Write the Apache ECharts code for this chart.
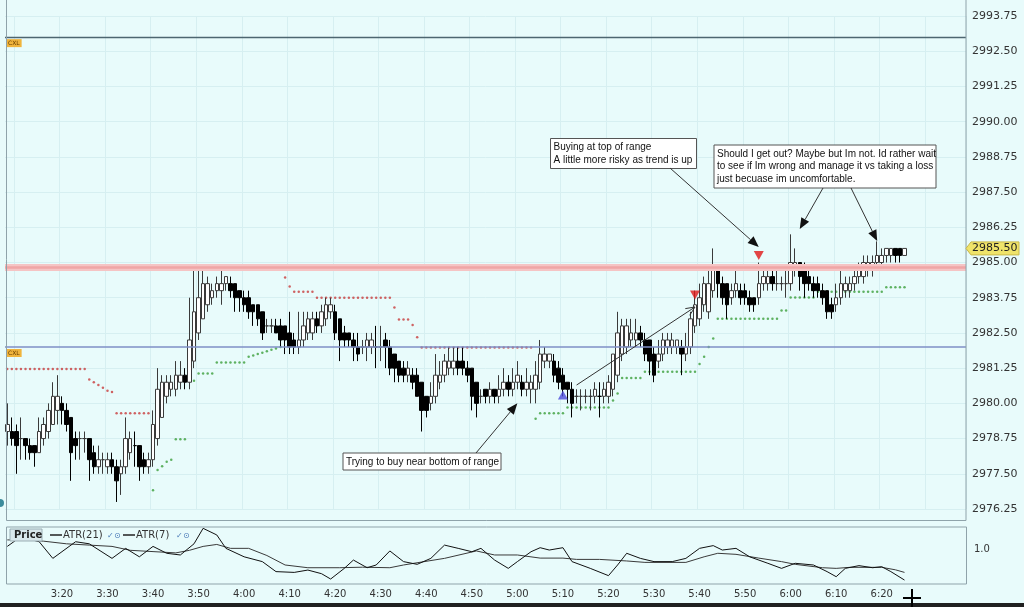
<!DOCTYPE html>
<html>
<head>
<meta charset="utf-8">
<title>Price ATR</title>
<script src="https://cdn.jsdelivr.net/npm/echarts@6/dist/echarts.min.js"></script>
<style>
  html, body { margin: 0; padding: 0; background: #e8fbfb; }
  #main { width: 1024px; height: 607px; }
</style>
</head>
<body>
<div id="main"></div>
<script>
// one-minute bars, axis runs 3:08 .. 6:38
var firstMinute = 3 * 60 + 8;
var slotCount = 211;
var times = [];
for (var m = 0; m < slotCount; m++) {
  var t = firstMinute + m;
  times.push(Math.floor(t / 60) + ':' + ('0' + (t % 60)).slice(-2));
}

// [open, close, low, high], from 3:08
var candles = [
  [2979.0, 2979.25, 2978.5, 2980.0], [2979.0, 2978.75, 2978.5, 2979.5], [2979.0, 2978.5, 2977.5, 2979.25],
  [2978.75, 2978.75, 2978.0, 2979.5], [2978.75, 2978.5, 2978.0, 2978.75], [2978.5, 2978.25, 2978.0, 2978.75],
  [2978.5, 2978.25, 2977.75, 2978.5], [2978.25, 2979.0, 2978.25, 2979.5], [2978.75, 2979.25, 2978.5, 2979.5],
  [2979.0, 2979.75, 2978.75, 2980.0], [2979.25, 2980.25, 2979.25, 2980.75], [2979.75, 2980.25, 2979.25, 2981.0],
  [2980.0, 2979.75, 2979.25, 2980.25], [2979.75, 2979.25, 2979.0, 2980.0], [2979.5, 2978.25, 2977.25, 2979.5],
  [2978.75, 2978.5, 2978.0, 2979.0], [2978.75, 2978.75, 2978.0, 2979.0], [2978.75, 2978.75, 2978.25, 2979.0],
  [2978.75, 2978.0, 2977.25, 2978.75], [2978.25, 2977.75, 2977.5, 2978.5], [2977.75, 2978.0, 2977.5, 2978.5],
  [2978.0, 2978.0, 2977.5, 2978.25], [2977.75, 2978.0, 2977.5, 2978.25], [2978.0, 2977.75, 2977.5, 2978.25],
  [2977.75, 2977.25, 2976.5, 2978.0], [2977.5, 2977.75, 2976.75, 2978.0], [2977.75, 2978.75, 2977.5, 2979.5],
  [2978.25, 2978.75, 2978.0, 2979.0], [2978.5, 2978.5, 2977.75, 2979.0], [2978.5, 2977.75, 2977.25, 2978.5],
  [2978.0, 2977.75, 2977.5, 2978.25], [2977.75, 2978.0, 2977.5, 2978.25], [2978.0, 2979.25, 2977.75, 2979.75],
  [2978.75, 2980.5, 2978.5, 2981.25], [2979.5, 2980.75, 2979.5, 2981.0], [2980.25, 2980.75, 2980.0, 2981.0],
  [2980.5, 2980.75, 2980.25, 2981.0], [2980.5, 2981.0, 2980.25, 2981.5], [2980.75, 2981.0, 2980.5, 2981.5],
  [2981.0, 2980.75, 2980.5, 2981.25], [2980.75, 2982.25, 2980.5, 2983.75], [2981.5, 2983.25, 2981.25, 2984.75],
  [2982.5, 2983.75, 2982.25, 2984.75], [2983.0, 2984.25, 2983.0, 2984.75], [2983.5, 2984.25, 2983.25, 2984.5],
  [2983.75, 2984.0, 2983.5, 2984.25], [2984.0, 2984.25, 2983.75, 2984.5], [2984.0, 2984.25, 2983.5, 2984.75],
  [2984.25, 2984.5, 2984.0, 2984.5], [2984.25, 2984.0, 2983.75, 2984.5], [2984.25, 2983.75, 2983.25, 2984.25],
  [2984.0, 2983.75, 2983.25, 2984.0], [2983.75, 2983.5, 2983.25, 2984.0], [2983.75, 2983.25, 2983.0, 2984.0],
  [2983.5, 2983.25, 2982.75, 2983.5], [2983.5, 2983.0, 2982.75, 2983.5], [2983.25, 2982.5, 2982.25, 2983.25],
  [2982.75, 2982.75, 2982.5, 2983.0], [2982.75, 2982.75, 2982.5, 2983.0], [2982.75, 2982.5, 2982.5, 2983.0],
  [2982.75, 2982.25, 2982.0, 2983.0], [2982.75, 2982.25, 2981.75, 2982.75], [2982.5, 2982.0, 2981.75, 2983.25],
  [2982.25, 2982.0, 2981.75, 2982.5], [2982.0, 2982.25, 2981.75, 2983.25], [2982.25, 2982.75, 2982.0, 2983.25],
  [2982.5, 2983.0, 2982.25, 2983.25], [2982.5, 2983.0, 2982.25, 2983.25], [2983.0, 2982.75, 2982.5, 2983.25],
  [2982.75, 2983.25, 2982.5, 2983.5], [2983.0, 2983.5, 2982.75, 2983.75], [2983.25, 2983.5, 2983.0, 2983.75],
  [2983.25, 2982.5, 2982.25, 2983.5], [2983.0, 2982.25, 2981.5, 2983.0], [2982.5, 2982.25, 2982.0, 2982.75],
  [2982.5, 2982.25, 2982.0, 2982.5], [2982.25, 2982.0, 2981.5, 2982.5], [2982.0, 2981.75, 2981.5, 2982.5],
  [2982.0, 2982.0, 2981.75, 2982.25], [2982.0, 2982.25, 2981.5, 2982.5], [2982.0, 2982.25, 2981.75, 2982.5],
  [2982.0, 2982.0, 2981.25, 2982.75], [2982.0, 2982.0, 2981.5, 2982.75], [2982.25, 2982.0, 2981.25, 2982.5],
  [2982.0, 2981.25, 2981.0, 2982.25], [2981.75, 2981.25, 2980.75, 2981.75], [2981.5, 2981.0, 2980.75, 2981.5],
  [2981.25, 2981.0, 2980.75, 2981.5], [2981.0, 2981.25, 2980.75, 2981.5], [2981.0, 2980.75, 2980.5, 2981.25],
  [2981.0, 2980.25, 2980.25, 2981.25], [2980.75, 2979.75, 2979.0, 2980.75], [2980.25, 2979.75, 2979.5, 2980.25],
  [2980.0, 2980.25, 2979.75, 2980.75], [2980.25, 2981.0, 2980.0, 2981.75], [2980.75, 2981.0, 2980.5, 2981.5],
  [2981.0, 2981.5, 2980.75, 2981.75], [2981.25, 2981.5, 2981.0, 2982.0], [2981.25, 2981.5, 2981.0, 2982.0],
  [2981.5, 2981.25, 2981.0, 2982.0], [2981.5, 2981.25, 2981.0, 2982.0], [2981.25, 2981.0, 2980.75, 2981.5],
  [2981.25, 2980.25, 2979.75, 2981.25], [2980.75, 2980.0, 2979.5, 2980.75], [2980.25, 2980.25, 2980.0, 2980.5],
  [2980.5, 2980.25, 2980.0, 2980.5], [2980.25, 2980.5, 2980.0, 2980.75], [2980.5, 2980.25, 2980.0, 2980.5],
  [2980.25, 2980.5, 2980.0, 2981.0], [2980.5, 2980.75, 2980.25, 2981.25], [2980.75, 2980.5, 2980.25, 2981.0],
  [2980.5, 2980.75, 2980.25, 2981.25], [2980.75, 2981.0, 2980.5, 2981.5], [2980.75, 2980.5, 2980.25, 2981.0],
  [2980.5, 2980.75, 2980.25, 2981.25], [2980.5, 2980.75, 2980.0, 2981.0], [2980.5, 2981.0, 2980.0, 2981.5],
  [2980.75, 2981.75, 2980.5, 2982.25], [2981.5, 2981.75, 2981.25, 2982.0], [2981.5, 2981.75, 2981.25, 2981.75],
  [2981.5, 2981.0, 2980.75, 2981.75], [2981.25, 2980.75, 2980.5, 2981.5], [2981.0, 2980.5, 2980.25, 2981.25],
  [2980.75, 2980.5, 2980.0, 2980.75], [2980.5, 2980.0, 2979.5, 2980.75], [2980.25, 2980.25, 2980.0, 2980.5],
  [2980.25, 2980.25, 2979.75, 2980.5], [2980.25, 2980.25, 2980.0, 2980.5], [2980.25, 2980.25, 2979.75, 2980.5],
  [2980.25, 2980.5, 2980.0, 2980.75], [2980.25, 2980.25, 2979.5, 2980.75], [2980.25, 2980.5, 2980.0, 2980.75],
  [2980.25, 2980.75, 2980.0, 2981.0], [2980.5, 2981.75, 2980.25, 2981.75], [2981.0, 2982.5, 2980.75, 2983.25],
  [2981.75, 2982.75, 2981.5, 2983.0], [2982.0, 2982.75, 2981.75, 2983.0], [2982.25, 2982.5, 2982.0, 2983.0],
  [2982.25, 2982.5, 2982.0, 2983.0], [2982.5, 2982.25, 2982.0, 2982.75], [2982.25, 2981.75, 2981.5, 2982.5],
  [2982.25, 2981.5, 2981.0, 2982.25], [2981.75, 2981.0, 2980.75, 2982.0], [2981.5, 2981.75, 2981.25, 2982.25],
  [2981.75, 2982.25, 2981.5, 2982.5], [2982.0, 2982.25, 2981.75, 2982.5], [2982.0, 2982.25, 2981.75, 2982.5],
  [2982.0, 2982.25, 2981.75, 2982.25], [2982.0, 2981.75, 2981.0, 2982.25], [2981.75, 2982.0, 2981.5, 2982.5],
  [2982.0, 2983.0, 2981.75, 2983.25], [2982.75, 2983.5, 2982.5, 2984.0], [2983.0, 2983.75, 2982.75, 2984.25],
  [2983.5, 2984.25, 2983.25, 2984.5], [2983.25, 2984.25, 2983.0, 2984.75], [2984.0, 2984.75, 2983.75, 2985.5],
  [2984.75, 2984.25, 2983.75, 2984.75], [2984.25, 2983.75, 2983.5, 2984.5], [2984.25, 2983.5, 2983.0, 2984.25],
  [2983.75, 2984.0, 2983.5, 2984.25], [2984.0, 2984.25, 2983.75, 2984.75], [2984.0, 2983.75, 2983.5, 2984.25],
  [2984.0, 2983.75, 2983.5, 2984.25], [2983.75, 2983.5, 2983.25, 2984.0], [2983.75, 2983.5, 2983.25, 2983.75],
  [2983.75, 2984.25, 2983.5, 2985.0], [2984.25, 2984.5, 2984.0, 2984.75], [2984.25, 2984.5, 2984.0, 2984.75],
  [2984.5, 2984.25, 2984.0, 2984.75], [2984.25, 2984.25, 2984.0, 2984.75], [2984.25, 2984.25, 2984.0, 2984.5],
  [2984.25, 2984.25, 2983.75, 2984.75], [2984.25, 2985.0, 2984.0, 2986.0], [2984.75, 2985.0, 2984.5, 2985.5],
  [2985.0, 2984.5, 2984.0, 2985.0], [2984.75, 2984.25, 2983.75, 2985.0], [2984.5, 2984.25, 2984.0, 2984.75],
  [2984.25, 2984.0, 2983.75, 2984.5], [2984.25, 2984.0, 2983.75, 2984.5], [2984.0, 2983.75, 2983.5, 2984.25],
  [2984.0, 2983.25, 2983.0, 2984.0], [2983.5, 2983.25, 2983.0, 2983.75], [2983.5, 2983.75, 2983.25, 2984.25],
  [2983.75, 2984.25, 2983.5, 2984.75], [2984.0, 2984.25, 2983.75, 2984.5], [2984.0, 2984.25, 2983.75, 2984.5],
  [2984.25, 2984.5, 2984.0, 2984.75], [2984.5, 2984.75, 2984.25, 2985.0], [2984.5, 2985.0, 2984.25, 2985.25],
  [2984.75, 2985.0, 2984.5, 2985.25], [2984.75, 2985.0, 2984.5, 2985.25], [2985.0, 2985.25, 2984.75, 2985.75],
  [2985.0, 2985.25, 2984.75, 2985.5], [2985.25, 2985.5, 2985.0, 2985.5], [2985.25, 2985.5, 2985.0, 2985.5],
  [2985.5, 2985.25, 2985.0, 2985.5], [2985.5, 2985.25, 2985.0, 2985.5], [2985.25, 2985.5, 2985.25, 2985.5]
];

// trailing stop dots, runs of [firstBar, lastBar, level]
var stopsAbove = [
  [0, 17, 2981.22], [18, 18, 2980.85], [19, 19, 2980.75], [20, 20, 2980.65], [21, 21, 2980.55],
  [22, 22, 2980.45], [23, 23, 2980.4], [24, 31, 2979.65],
  [61, 61, 2984.47], [62, 62, 2984.15], [63, 67, 2983.96], [68, 84, 2983.75], [85, 85, 2983.4],
  [86, 88, 2982.98], [89, 89, 2982.78], [90, 90, 2982.35], [91, 115, 2981.98]
];
var stopsBelow = [
  [32, 32, 2976.92], [33, 33, 2977.63], [34, 34, 2977.77], [35, 35, 2977.93], [36, 36, 2978.0],
  [37, 39, 2978.73], [40, 41, 2980.8], [42, 45, 2981.06], [46, 52, 2981.45], [53, 53, 2981.65],
  [54, 54, 2981.7], [55, 55, 2981.75], [56, 56, 2981.8], [57, 57, 2981.85], [58, 58, 2981.9],
  [59, 59, 2981.95], [60, 60, 2982.0],
  [116, 116, 2979.45], [117, 122, 2979.65], [123, 132, 2979.85], [133, 133, 2980.1], [134, 134, 2980.35],
  [135, 139, 2980.9], [140, 151, 2981.12], [152, 152, 2981.4], [153, 153, 2981.65], [154, 154, 2982.0],
  [155, 155, 2982.3], [156, 169, 2983.0], [170, 171, 2983.3], [172, 177, 2983.76], [178, 192, 2983.96],
  [193, 197, 2984.12]
];

var buySignals = [[122, 2980.3]];
var sellSignals = [[151, 2983.85], [165, 2985.25]];

// horizontal levels
var cancelLevels = [2993.0, 2982.0];
var rangeTop = 2984.82;

// ATR panel, [bar, value]
var atr21 = [
  [0, 1.07], [4, 1.07], [8, 1.06], [13, 1.04], [18, 1.03], [23, 1.02], [27, 0.99], [32, 0.98],
  [37, 0.97], [40, 0.99], [43, 1.02], [46, 1.035], [49, 1.005], [53, 1.005], [57, 0.95], [61, 0.877],
  [66, 0.856], [73, 0.856], [78, 0.86], [84, 0.856], [87, 0.877], [91, 0.9], [96, 0.928], [103, 0.985],
  [107, 0.954], [112, 0.954], [117, 0.93], [122, 0.93], [125, 0.92], [130, 0.92], [136, 0.908],
  [140, 0.897], [149, 0.897], [153, 0.94], [156, 0.967], [160, 0.959], [165, 0.93], [170, 0.903],
  [173, 0.882], [179, 0.856], [182, 0.851], [185, 0.859], [192, 0.859], [195, 0.84], [197, 0.82]
];
var atr7 = [
  [0, 1.02], [3, 1.095], [7, 1.056], [10, 0.928], [15, 1.056], [18, 1.04], [23, 0.928], [26, 1.005],
  [29, 0.94], [32, 1.02], [35, 0.967], [38, 0.954], [41, 1.04], [43, 1.159], [46, 1.108], [48, 1.005],
  [52, 0.94], [56, 0.903], [59, 0.826], [63, 0.82], [66, 0.838], [69, 0.81], [71, 0.769], [74, 0.851],
  [76, 0.915], [79, 0.856], [81, 0.877], [84, 0.985], [87, 0.903], [90, 0.882], [93, 0.928], [96, 1.03],
  [99, 1.005], [102, 0.979], [104, 1.005], [107, 0.915], [110, 0.851], [112, 0.903], [115, 0.979],
  [117, 1.01], [119, 0.992], [122, 1.01], [124, 0.903], [128, 0.851], [132, 0.795], [134, 0.877],
  [136, 0.967], [139, 0.928], [142, 0.903], [146, 0.903], [149, 0.928], [152, 1.005], [155, 1.026],
  [157, 0.992], [160, 1.005], [163, 0.94], [167, 0.89], [170, 0.851], [173, 0.89], [177, 0.877],
  [180, 0.826], [182, 0.787], [184, 0.851], [187, 0.872], [190, 0.856], [192, 0.864], [194, 0.826],
  [197, 0.761]
];

// callouts: box in pixels, arrows point at [bar, price]
var notes = [
  { box: [550.5, 138.5, 146, 30], text: 'Buying at top of range\nA little more risky as trend is up',
    arrows: [{ from: [670, 168], tip: [165, 2985.55] }] },
  { box: [714, 145, 222, 43],
    text: 'Should I get out? Maybe but Im not. Id rather wait\nto see if Im wrong and manage it vs taking a loss\njust becuase im uncomfortable.',
    arrows: [{ from: [823, 188], tip: [174, 2986.19] }, { from: [851, 188], tip: [191, 2985.76] }] },
  { box: [343, 453, 158, 17], text: 'Trying to buy near bottom of range',
    arrows: [{ from: [476, 453], tip: [112, 2980.0] }] }
];
var tradeArrow = { from: [125, 2980.65], tip: [151, 2983.42] };

function expandRuns(runs) {
  var pts = [];
  runs.forEach(function (r) {
    for (var i = r[0]; i <= r[1]; i++) pts.push([i, r[2]]);
  });
  return pts;
}

var gridColor = '#d6eff1';
var axisFont = 'DejaVu Sans';

var chart = echarts.init(document.getElementById('main'));
var option = {
  backgroundColor: '#e8fbfb',
  animation: false,
  grid: [
    { left: 5, right: 58, top: 16, height: 493, outerBoundsMode: 'none' },
    { left: 5, right: 58, top: 523, height: 65, outerBoundsMode: 'none' }
  ],
  xAxis: [
    {
      type: 'category', data: times, gridIndex: 0,
      axisLine: { show: false }, axisTick: { show: false }, axisLabel: { show: false },
      splitLine: { show: true, interval: function (i) { return (i - 2) % 10 === 0; },
                   lineStyle: { color: gridColor, width: 1 } }
    },
    {
      type: 'category', data: times, gridIndex: 1,
      axisLine: { show: false }, axisTick: { show: false },
      axisLabel: {
        interval: function (i) { return i >= 12 && i <= 192 && (i - 2) % 10 === 0; },
        fontFamily: axisFont, fontSize: 10, color: '#333', margin: 1
      },
      splitLine: { show: false }
    }
  ],
  yAxis: [
    {
      type: 'value', gridIndex: 0, position: 'right',
      min: 2976.25, max: 2993.75, interval: 1.25,
      axisLine: { show: false }, axisTick: { show: false },
      axisLabel: { formatter: function (v) { return v.toFixed(2); },
                   fontFamily: axisFont, fontSize: 11, color: '#333', margin: 6 },
      splitLine: { lineStyle: { color: gridColor, width: 1 } }
    },
    {
      type: 'value', gridIndex: 1, position: 'right',
      min: 0.7, max: 1.2, interval: 0.1,
      axisLine: { show: false }, axisTick: { show: false },
      axisLabel: { formatter: function (v) { return Math.abs(v - 1) < 1e-6 ? '1.0' : ''; },
                   fontFamily: axisFont, fontSize: 10, color: '#333', margin: 8 },
      splitLine: { show: false }
    }
  ],
  series: [
    {
      name: 'stops above', type: 'scatter', xAxisIndex: 0, yAxisIndex: 0,
      data: expandRuns(stopsAbove), symbolSize: 2.5, z: 1,
      itemStyle: { color: '#c83c3c' }, silent: true
    },
    {
      name: 'stops below', type: 'scatter', xAxisIndex: 0, yAxisIndex: 0,
      data: expandRuns(stopsBelow), symbolSize: 2.5, z: 1,
      itemStyle: { color: '#3b9f3b' }, silent: true
    },
    {
      name: 'Price', type: 'candlestick', xAxisIndex: 0, yAxisIndex: 0,
      data: candles, barWidth: 4, z: 3,
      itemStyle: { color: '#ffffff', color0: '#000000', borderColor: '#3a3a3a', borderColor0: '#000000', borderWidth: 1 },
      markLine: {
        silent: true, symbol: ['none', 'none'], animation: false,
        data: [
          { yAxis: rangeTop, lineStyle: { color: '#f5c4c4', width: 7, type: 'solid' }, label: { show: false } },
          { yAxis: rangeTop, lineStyle: { color: '#efa6a6', width: 2.5, type: 'solid' }, label: { show: false } },
          { yAxis: cancelLevels[0], lineStyle: { color: '#4d6670', width: 1.3, type: 'solid' } },
          { yAxis: cancelLevels[1], lineStyle: { color: '#7f8fc6', width: 1.5, type: 'solid' } }
        ],
        label: {
          show: true, position: 'insideStartBottom', formatter: 'CXL', distance: [1, 2],
          backgroundColor: '#f0b43c', color: '#6a4000', fontSize: 6, fontFamily: axisFont,
          padding: [1, 2]
        }
      }
    },
    {
      name: 'buy', type: 'scatter', xAxisIndex: 0, yAxisIndex: 0, data: buySignals,
      symbol: 'triangle', symbolSize: [10, 9], z: 5, itemStyle: { color: '#4b4bdc' }
    },
    {
      name: 'sell', type: 'scatter', xAxisIndex: 0, yAxisIndex: 0, data: sellSignals,
      symbol: 'triangle', symbolRotate: 180, symbolSize: [10, 9], z: 5, itemStyle: { color: '#e01818' }
    },
    {
      name: 'ATR(21)', type: 'line', xAxisIndex: 1, yAxisIndex: 1, data: atr21,
      symbol: 'none', lineStyle: { color: '#3a3a3a', width: 1 }
    },
    {
      name: 'ATR(7)', type: 'line', xAxisIndex: 1, yAxisIndex: 1, data: atr7,
      symbol: 'none', lineStyle: { color: '#111111', width: 1 }
    }
  ]
};
chart.setOption(option);

function toPx(bar, price) {
  return chart.convertToPixel({ xAxisIndex: 0, yAxisIndex: 0 }, [bar, price]);
}

function arrowParts(from, tip, filled) {
  var dx = tip[0] - from[0], dy = tip[1] - from[1];
  var len = Math.sqrt(dx * dx + dy * dy);
  var ux = dx / len, uy = dy / len;
  var hl = filled ? 11 : 9, hw = filled ? 4.5 : 4;
  var bx = tip[0] - ux * hl, by = tip[1] - uy * hl;
  var p1 = [bx - uy * hw, by + ux * hw], p2 = [bx + uy * hw, by - ux * hw];
  var parts = [{
    type: 'line', silent: true, z: 20,
    shape: { x1: from[0], y1: from[1], x2: filled ? bx : tip[0], y2: filled ? by : tip[1] },
    style: { stroke: '#333', lineWidth: 1 }
  }];
  if (filled) {
    parts.push({ type: 'polygon', silent: true, z: 20, shape: { points: [tip, p1, p2] }, style: { fill: '#111' } });
  } else {
    parts.push({ type: 'polyline', silent: true, z: 20, shape: { points: [p1, tip, p2] },
                 style: { stroke: '#333', lineWidth: 1, fill: 'none' } });
  }
  return parts;
}

function textEl(x, y, str, font, color, z, extra) {
  var el = {
    type: 'text', silent: true, z: z, x: x, y: y,
    style: { text: str, font: font, fill: color, align: 'left', textAlign: 'left',
             verticalAlign: 'middle', textVerticalAlign: 'middle' }
  };
  if (extra) for (var k in extra) el.style[k] = extra[k];
  return el;
}

var els = [];
// panel frames
els.push({ type: 'rect', silent: true, z: 10, shape: { x: 6.5, y: -1, width: 959.5, height: 521.5 },
           style: { fill: 'none', stroke: '#8fa3aa', lineWidth: 1 } });
els.push({ type: 'rect', silent: true, z: 10, shape: { x: 6.5, y: 527, width: 960, height: 57 },
           style: { fill: 'none', stroke: '#8fa3aa', lineWidth: 1 } });

// callouts
var noteFont = '10px "Liberation Sans", Arial, sans-serif';
notes.forEach(function (n) {
  var b = n.box;
  els.push({ type: 'rect', silent: true, z: 20, shape: { x: b[0], y: b[1], width: b[2], height: b[3] },
             style: { fill: '#ffffff', stroke: '#555', lineWidth: 1 } });
  els.push(textEl(b[0] + 3, b[1] + 2.5, n.text, noteFont, '#111', 21,
                  { verticalAlign: 'top', textVerticalAlign: 'top', lineHeight: 12.7 }));
  n.arrows.forEach(function (a) {
    els = els.concat(arrowParts(a.from, toPx(a.tip[0], a.tip[1]), true));
  });
});
els = els.concat(arrowParts(toPx(tradeArrow.from[0], tradeArrow.from[1]),
                            toPx(tradeArrow.tip[0], tradeArrow.tip[1]), false));

// last price tag on the axis
var last = candles[candles.length - 1][1];
var ty = toPx(0, last)[1];
els.push({ type: 'polygon', silent: true, z: 22,
           shape: { points: [[966, ty], [971, ty - 6.5], [1019, ty - 6.5], [1019, ty + 6.5], [971, ty + 6.5]] },
           style: { fill: '#efe36a', stroke: '#c9b84a', lineWidth: 1 } });
els.push(textEl(972, ty, last.toFixed(2), '11px "DejaVu Sans"', '#222', 25));

// ATR panel legend
els.push({ type: 'rect', silent: true, z: 20, shape: { x: 10, y: 529, width: 32, height: 12 },
           style: { fill: '#d9e8ec', stroke: '#9aaeb4', lineWidth: 1 } });
els.push(textEl(14, 535.5, 'Price', 'bold 10px "DejaVu Sans"', '#222', 21));
els.push({ type: 'line', silent: true, z: 20, shape: { x1: 50, y1: 535, x2: 62, y2: 535 },
           style: { stroke: '#222', lineWidth: 1.5 } });
els.push(textEl(63, 535.5, 'ATR(21)', '10px "DejaVu Sans"', '#333', 21));
els.push(textEl(107, 535.5, '✓', '8px "DejaVu Sans"', '#4a7ab8', 21));
els.push(textEl(114, 535.5, '⊙', '8px "DejaVu Sans"', '#4a7ab8', 21));
els.push({ type: 'line', silent: true, z: 20, shape: { x1: 123, y1: 535, x2: 135, y2: 535 },
           style: { stroke: '#222', lineWidth: 1.5 } });
els.push(textEl(136, 535.5, 'ATR(7)', '10px "DejaVu Sans"', '#333', 21));
els.push(textEl(176, 535.5, '✓', '8px "DejaVu Sans"', '#4a7ab8', 21));
els.push(textEl(183, 535.5, '⊙', '8px "DejaVu Sans"', '#4a7ab8', 21));

// mouse cursor and window edge
els.push({ type: 'line', silent: true, z: 30, shape: { x1: 912, y1: 589, x2: 912, y2: 607 },
           style: { stroke: '#000', lineWidth: 2 } });
els.push({ type: 'line', silent: true, z: 30, shape: { x1: 903, y1: 598, x2: 921, y2: 598 },
           style: { stroke: '#000', lineWidth: 2 } });
els.push({ type: 'rect', silent: true, z: 29, shape: { x: 0, y: 603, width: 1024, height: 4 },
           style: { fill: '#202020' } });
els.push({ type: 'circle', silent: true, z: 29, shape: { cx: 0, cy: 503, r: 4 },
           style: { fill: '#3c8c9c' } });

chart.setOption({ graphic: els });
</script>
</body>
</html>
